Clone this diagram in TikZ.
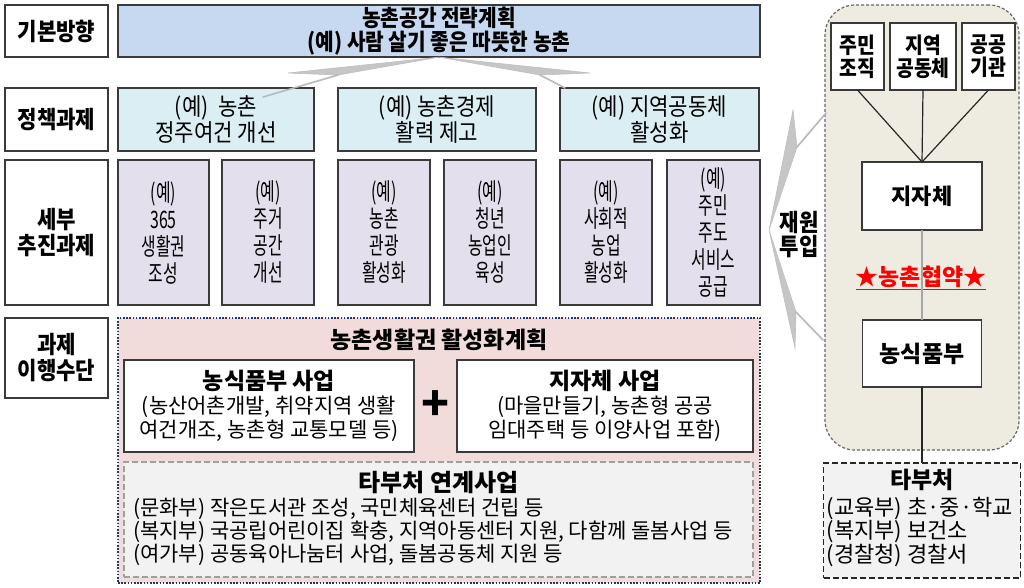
\documentclass[tikz,border=0pt]{standalone}
\usepackage{fontspec}
\setmainfont{Noto Sans CJK KR}
\newfontfamily\narrowkr{Noto Sans CJK KR}[FakeStretch=0.66]
\newfontfamily\midkr{Noto Sans CJK KR}[FakeStretch=0.88]
\usepackage{xcolor}
\usepackage{tikz}
\usetikzlibrary{positioning,calc}
\definecolor{xvision}{HTML}{C6D9F1}
\definecolor{xpolicy}{HTML}{DAEEF3}
\definecolor{xdetail}{HTML}{E4DFEC}
\definecolor{xplan}{HTML}{F2DCDB}
\definecolor{xpact}{HTML}{EEECE1}
\definecolor{xother}{HTML}{F2F2F2}
\definecolor{xnavy}{HTML}{1F3864}
\definecolor{xedge}{HTML}{3A3A3A}

\begin{document}
\begin{tikzpicture}[
    x=1pt, y=-1pt,
    box/.style={rectangle, draw=xedge, line width=1.4pt, outer sep=0pt, inner sep=2pt, align=center},
    lbl/.style={box, fill=white, minimum width=103pt, font=\midkr\bfseries\fontsize{24}{26}\selectfont},
    vision/.style={box, fill=xvision, minimum width=642pt, minimum height=52pt, font=\midkr\bfseries\fontsize{23}{24}\selectfont},
    policy/.style={box, fill=xpolicy, minimum height=63pt, font=\midkr\fontsize{24}{26}\selectfont},
    detail/.style={box, fill=xdetail, minimum height=145pt, font=\narrowkr\fontsize{24}{27}\selectfont},
    plan/.style={rectangle, fill=xplan, draw=xnavy, line width=1.6pt, dash pattern=on 1.6pt off 1.6pt, outer sep=0pt},
    sub/.style={box, fill=white, minimum height=92pt, font=\fontsize{21}{24}\selectfont},
    other/.style={rectangle, fill=xother, draw=gray!75, line width=1.2pt, dash pattern=on 6pt off 3pt, outer sep=0pt},
    pact/.style={rectangle, rounded corners=30pt, fill=xpact, draw=gray!80!black, line width=1.2pt, dash pattern=on 3pt off 2pt, outer sep=0pt},
    actor/.style={box, fill=white, font=\midkr\bfseries\fontsize{22}{23}\selectfont},
    ministry/.style={rectangle, fill=xother, draw=black!85, line width=1.6pt, dash pattern=on 6pt off 3pt, outer sep=0pt},
    link/.style={line width=1.2pt, draw=black!85},
    brace/.style={fill=gray!45, draw=gray!50, line width=0.6pt},
    hook/.style={line width=1.6pt, draw=gray!55, line cap=round},
]

% Canvas
\path[fill=white, use as bounding box] (0,0) rectangle (1024,587);

% Row labels
\node[lbl, minimum height=52pt] (lbasic) at (56.5,31) {기본방향};
\node[lbl, minimum height=63pt] (lpolicy) at (56.5,119.5) {정책과제};
\node[lbl, minimum height=145pt] (ldetail) at (56.5,232.5) {세부\\추진과제};
\node[lbl, minimum height=80pt] (lmeans) at (56.5,358) {과제\\이행수단};

% Basic direction
\node[vision, right=10pt of lbasic] (vision) {농촌공간 전략계획\\(예) 사람 살기 좋은 따뜻한 농촌};

% Policy tasks
\node[policy, minimum width=196pt, right=10pt of lpolicy] (pol1) {(예)~~농촌\\정주여건 개선};
\node[policy, minimum width=198pt, right=24pt of pol1] (pol2) {(예) 농촌경제\\활력 제고};
\node[policy, minimum width=199pt, right=24pt of pol2] (pol3) {(예) 지역공동체\\활성화};

% Detail tasks
\node[detail, minimum width=91pt, right=10pt of ldetail] (det1) {(예)\\365\\생활권\\조성};
\node[detail, minimum width=92pt, right=13pt of det1] (det2) {(예)\\주거\\공간\\개선};
\node[detail, minimum width=92pt, right=24pt of det2] (det3) {(예)\\농촌\\관광\\활성화};
\node[detail, minimum width=92pt, right=14pt of det3] (det4) {(예)\\청년\\농업인\\육성};
\node[detail, minimum width=92pt, right=24pt of det4] (det5) {(예)\\사회적\\농업\\활성화};
\node[detail, minimum width=93pt, right=15pt of det5] (det6) {(예)\\주민\\주도\\서비스\\공급};

% Implementation means
\node[plan, minimum width=642pt, minimum height=265pt, anchor=north west] (plan) at (118,318) {};
\node[font=\bfseries\fontsize{23}{24}\selectfont, below=7pt of plan.north] (plantitle) {농촌생활권 활성화계획};
\node[sub, minimum width=290pt, anchor=north west] (agri) at (124,360) {{\bfseries\fontsize{23}{27}\selectfont 농식품부 사업}\\(농산어촌개발, 취약지역 생활\\여건개조, 농촌형 교통모델 등)};
\node[sub, minimum width=296pt, right=43pt of agri] (local) {{\bfseries\fontsize{23}{27}\selectfont 지자체 사업}\\(마을만들기, 농촌형 공공\\임대주택 등 이양사업 포함)};
\node[font=\bfseries\fontsize{46}{46}\selectfont] (plus) at ($(agri.east)!0.5!(local.west)$) {+};
\node[other, minimum width=629pt, minimum height=115pt, below=10pt of agri.south west, anchor=north west] (other) {};
\node[font=\bfseries\fontsize{24}{26}\selectfont, below=6pt of other.north] (othertitle) {타부처 연계사업};
\node[align=left, anchor=north west, inner sep=0pt, font=\fontsize{21}{23}\selectfont] (otherlist) at ($(other.north west)+(9,36)$)
  {(문화부) 작은도서관 조성, 국민체육센터 건립 등\\(복지부) 국공립어린이집 확충, 지역아동센터 지원, 다함께 돌봄사업 등\\(여가부) 공동육아나눔터 사업, 돌봄공동체 지원 등};

% Rural pact
\node[pact, minimum width=194pt, minimum height=445pt, anchor=north west] (pact) at (825,5) {};
\node[actor, minimum width=53pt, minimum height=67pt] (resi) at (857.5,56.5) {주민\\조직};
\node[actor, minimum width=66pt, minimum height=67pt, right=6pt of resi] (comm) {지역\\공동체};
\node[actor, minimum width=53pt, minimum height=67pt, right=6pt of comm] (pub) {공공\\기관};
\node[box, fill=white, minimum width=120pt, minimum height=68pt, font=\bfseries\fontsize{22}{24}\selectfont] (loc) at (922,196) {지자체};
\node[text=red, font=\bfseries\fontsize{23}{24}\selectfont] (pactlbl) at (921,278) {\underline{★농촌협약★}};
\node[box, fill=white, minimum width=119pt, minimum height=67pt, below=90pt of loc, font=\bfseries\fontsize{23}{24}\selectfont] (mafra) {농식품부};
\node[ministry, minimum width=197pt, minimum height=115pt, below=76pt of mafra] (minis) {};
\node[font=\bfseries\fontsize{23}{26}\selectfont, below=3pt of minis.north] (ministitle) {타부처};
\node[align=left, anchor=north west, inner sep=0pt, font=\fontsize{22}{23.5}\selectfont] (minislist) at ($(minis.north west)+(3,34)$)
  {(교육부) 초·중·학교\\(복지부) 보건소\\(경찰청) 경찰서};

% Links
\draw[link] (resi.south) -- (loc.north);
\draw[link] (comm.south) -- (loc.north);
\draw[link] (pub.south) -- (loc.north);
\draw[link, draw=gray!70] (loc.south) -- (mafra.north);
\draw[link] (mafra.south) -- (minis.north);

% Funding brace
\coordinate (tip) at (769,230);
\node[font=\midkr\bfseries\fontsize{24}{24}\selectfont, align=center] (fund) at (799,235) {재원\\투입};
\fill[brace] (tip) -- (793,110) -- (797,147) -- cycle;
\draw[hook] (797,147) -- (826,113);
\fill[brace] (tip) -- (795,348) -- (796,312) -- cycle;
\draw[hook] (796,312) -- (823,340);

% Brace under the basic direction
\fill[brace] (vision.south) -- (288,73) -- (338,75) -- cycle;
\draw[hook] (338,75) -- (263,97);
\fill[brace] (vision.south) -- (590,73) -- (540,75) -- cycle;
\draw[hook] (540,75) -- (565,88);

\end{tikzpicture}
\end{document}
